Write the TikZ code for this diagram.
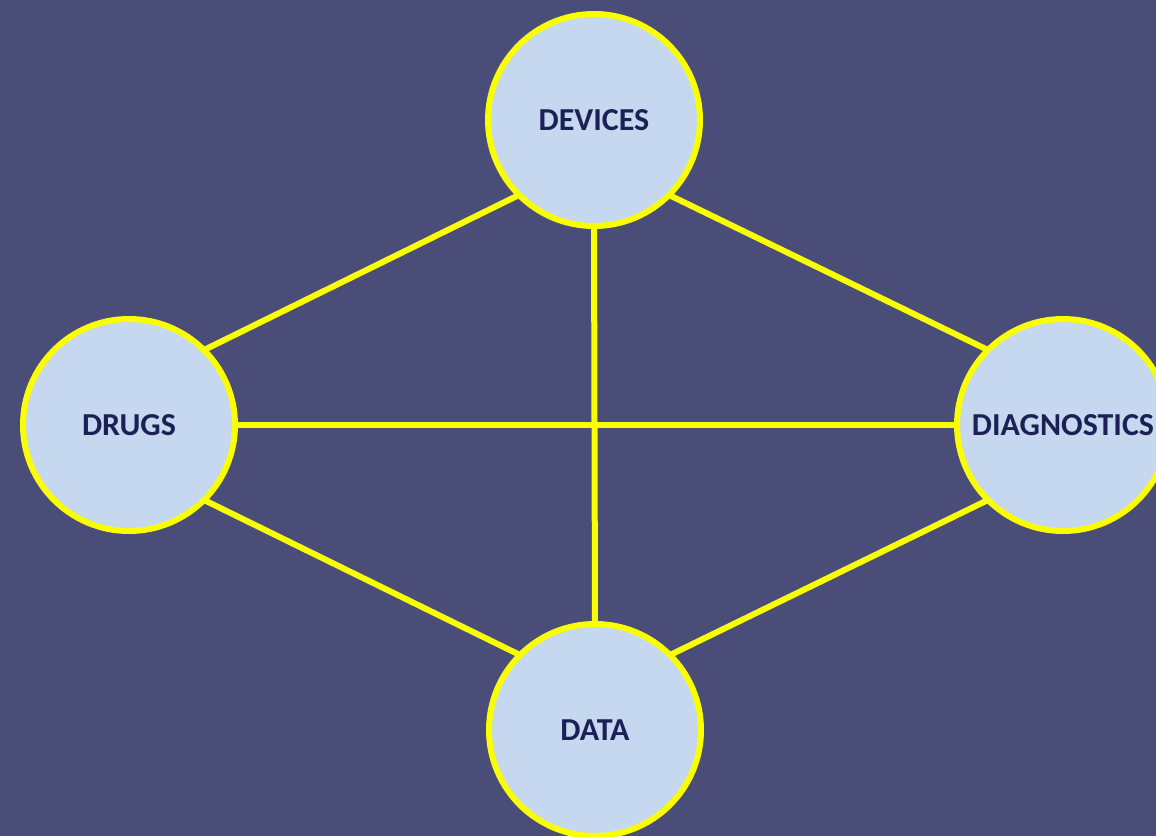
\documentclass[tikz,border=0pt]{standalone}
\usepackage{fontspec}
\setmainfont{Carlito}
\usetikzlibrary{backgrounds}
\definecolor{bg}{HTML}{4A4D78}
\definecolor{circfill}{HTML}{C5D8F0}
\definecolor{txt}{HTML}{1C2155}
\definecolor{yel}{HTML}{FAFF00}
\tikzset{
  hub/.style={circle, draw=yel, line width=6pt, fill=circfill, minimum size=212pt, inner sep=0pt, outer sep=0pt,
    font=\fontsize{32}{35}\selectfont\bfseries, text=txt},
  link/.style={draw=yel, line width=6pt}
}
\begin{document}
\begin{tikzpicture}[x=1pt,y=-1pt]
\useasboundingbox (0,0) rectangle (1156,836);
\clip (0,0) rectangle (1156,836);
\node[hub] (dev) at (594,120) {DEVICES};
\node[hub] (drug) at (129,425) {DRUGS};
\node[hub] (diag) at (1063,425) {DIAGNOSTICS};
\node[hub] (data) at (595,730) {DATA};
\begin{pgfonlayer}{background}
\fill[bg] (0,0) rectangle (1156,836);
\draw[link] (dev.south west) -- (drug.north east);
\draw[link] (dev.south east) -- (diag.north west);
\draw[link] (dev.south) -- (data.north);
\draw[link] (drug.east) -- (diag.west);
\draw[link] (drug.south east) -- (data.north west);
\draw[link] (diag.south west) -- (data.north east);
\end{pgfonlayer}
\end{tikzpicture}
\end{document}
